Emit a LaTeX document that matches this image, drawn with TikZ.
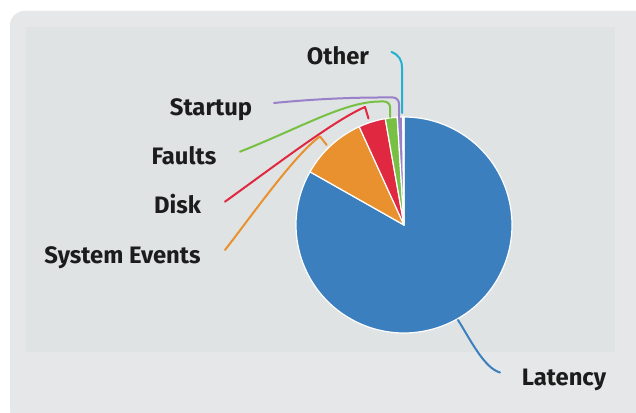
\documentclass[tikz,border=0pt]{standalone}
\usepackage{fontspec}
\setmainfont{Fira Sans}
\definecolor{panel}{HTML}{E5E7E8}
\definecolor{plotbg}{HTML}{DFE3E4}
\definecolor{txt}{HTML}{1C1C1C}
\definecolor{blu}{HTML}{3B7FBF}
\definecolor{orng}{HTML}{E8912E}
\definecolor{redc}{HTML}{E02840}
\definecolor{grn}{HTML}{78C043}
\definecolor{purp}{HTML}{9A80C8}
\definecolor{cyanc}{HTML}{22B2CF}
\begin{document}
\begin{tikzpicture}[x=1pt,y=1pt,
  lbl/.style={font=\fontsize{23.8}{26}\selectfont\bfseries, text=txt, inner sep=0pt, anchor=base},
  lead/.style={line width=2pt, line cap=round, line join=round},
  slice/.style={draw=white, line width=1.2pt, line join=round}]
\useasboundingbox (0,0) rectangle (636,412);
\clip (0,0) rectangle (636,412);
\fill[white] (0,0) rectangle (636,412);
\fill[panel, rounded corners=14pt] (10,-12) rectangle (652,401);
\fill[plotbg] (26,60) rectangle (615,385);

% pie
\coordinate (c) at (404,187);
\filldraw[slice, fill=blu]   (c) -- ++(150.5:108) arc[start angle=150.5, end angle=450, radius=108] -- cycle;
\filldraw[slice, fill=orng]  (c) -- ++(114.5:108) arc[start angle=114.5, end angle=150.5, radius=108] -- cycle;
\filldraw[slice, fill=redc]  (c) -- ++(100:108) arc[start angle=100, end angle=114.5, radius=108] -- cycle;
\filldraw[slice, fill=grn]   (c) -- ++(93.6:108) arc[start angle=93.6, end angle=100, radius=108] -- cycle;
\filldraw[slice, fill=purp]  (c) -- ++(90.7:108) arc[start angle=90.7, end angle=93.6, radius=108] -- cycle;
\filldraw[slice, fill=cyanc] (c) -- ++(90:108) arc[start angle=90, end angle=90.7, radius=108] -- cycle;

% labels
\node[lbl] (other)   at (338,347)   {Other};
\node[lbl] (startup) at (211,296)   {Startup};
\node[lbl] (faults)  at (184,247)   {Faults};
\node[lbl] (disk)    at (177.5,198) {Disk};
\node[lbl] (sysev)   at (122.5,148.7) {System Events};
\node[lbl] (latency) at (564,27)    {Latency};

% leader end points
\coordinate (oA) at (391.5,360); \coordinate (oB) at (402,299);
\coordinate (sA) at (274,309);   \coordinate (sB) at (399,294);
\coordinate (fA) at (240,260.3); \coordinate (fB) at (390,295);
\coordinate (dA) at (225,210.3); \coordinate (dB) at (368.5,293.5);
\coordinate (eA) at (225,162);   \coordinate (eB) at (326.7,267);
\coordinate (lA) at (458,92);    \coordinate (lB) at (500,39.5);

% leaders
\draw[lead,orng]  (eA) .. controls (250,194) and (295,258) .. (320,275.5) -- (eB);
\draw[lead,redc]  (dA) .. controls (280,250) and (335,292) .. (365,305) -- (dB);
\draw[lead,grn]   (fA) .. controls (300,284) and (345,310.5) .. (380,310.5) -- (384,310.5) to[out=0,in=90] (390,305) -- (fB);
\draw[lead,purp]  (sA) .. controls (330,314.5) and (370,314.6) .. (393,314.5) to[out=0,in=90] (399,308) -- (sB);
\draw[lead,cyanc] (oA) .. controls (399,357) and (402,352) .. (402,344) -- (oB);
\draw[lead,blu]   (lA) .. controls (470,73) and (484,44) .. (lB);
\end{tikzpicture}
\end{document}
